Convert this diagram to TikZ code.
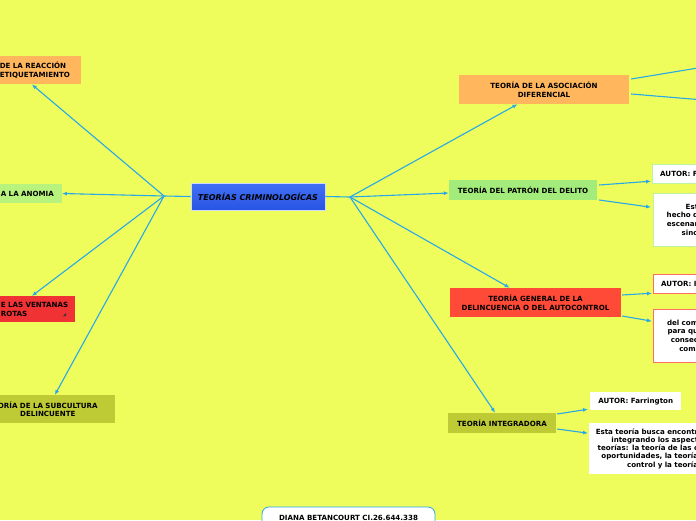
\documentclass[tikz,border=0pt]{standalone}
\usepackage{fontspec}
\setmainfont{DejaVu Sans}
\usetikzlibrary{arrows.meta, calc}

\definecolor{paper}{RGB}{238,253,91}
\definecolor{linkblue}{RGB}{40,168,232}
\definecolor{orangebox}{RGB}{255,182,92}
\definecolor{limebox}{RGB}{184,244,125}
\definecolor{redbox}{RGB}{240,50,52}
\definecolor{olivebox}{RGB}{190,203,52}
\definecolor{greenbox}{RGB}{163,235,122}
\definecolor{tomatobox}{RGB}{255,74,56}
\definecolor{bluetop}{RGB}{66,112,245}
\definecolor{bluebottom}{RGB}{40,84,228}
\definecolor{blueedge}{RGB}{205,220,248}

\begin{document}
\begin{tikzpicture}[
    x=1pt, y=-1pt,
    topic/.style={
        inner xsep=4pt,
        inner ysep=2pt,
        align=center,
        font=\fontsize{7.1}{8.8}\selectfont\bfseries,
    },
    note/.style={
        topic,
        fill=white,
        anchor=north west,
    },
    arrow/.style={
        -{Latex[length=5pt,width=4pt]},
        linkblue,
        line width=1.1pt,
    },
    link/.style={
        linkblue,
        line width=1.1pt,
    },
]

    \useasboundingbox (0,0) rectangle (696,520);
    \clip (0,0) rectangle (696,520);
    \fill[paper] (0,0) rectangle (696,520);

    \node[draw=blueedge, line width=1pt, top color=bluetop, bottom color=bluebottom,
        minimum width=134pt, minimum height=27pt,
        font=\fontsize{8}{10}\selectfont\bfseries\itshape] (crim) at (258,196.5) {TEORÍAS CRIMINOLOGÍCAS};
    \coordinate (hubL) at (164,196);
    \coordinate (hubR) at (350,197);

    % left side
    \node[topic, fill=orangebox, anchor=north east, minimum height=28pt, text width=77pt, align=left] (reac) at (81,56) {DE LA REACCIÓN\\ETIQUETAMIENTO};
    \node[topic, fill=limebox, anchor=east, minimum height=19pt, inner xsep=8pt, text width=60pt, align=right] (anom) at (62,193.5) {A LA ANOMIA};
    \node[topic, fill=redbox, anchor=north east, minimum height=26pt, text width=70pt, align=left] (vent) at (75,296) {E LAS VENTANAS\\ROTAS};
    \fill[black!80] (63,316) -- (66,316) -- (66,313) -- cycle;
    \node[topic, fill=olivebox, anchor=north east, minimum height=28pt, text width=126pt] (subc) at (115,395) {ORÍA DE LA SUBCULTURA\\DELINCUENTE};

    % right side
    \node[topic, fill=orangebox, minimum width=170pt, minimum height=29pt] (asoc) at (544,89.5) {TEORÍA DE LA ASOCIACIÓN\\DIFERENCIAL};
    \coordinate (asocX1) at (740,61);
    \coordinate (asocX2) at (740,103);

    \node[topic, fill=greenbox, minimum width=148pt, minimum height=20pt] (patr) at (523,190) {TEORÍA DEL PATRÓN DEL DELITO};
    \node[note, draw=greenbox!70, inner xsep=8pt, text width=60pt, align=left, minimum height=19pt] (patrA) at (652,164) {AUTOR: F};
    \node[note, draw=greenbox!70, text width=41pt, align=right, minimum height=53pt] (patrB) at (653,193) {Est\\hecho d\\escenar\\sino};

    \node[topic, fill=tomatobox, minimum width=171pt, minimum height=29pt] (gen) at (535.5,302.5) {TEORÍA GENERAL DE LA\\DELINCUENCIA O DEL AUTOCONTROL};
    \node[note, draw=tomatobox!80, inner xsep=8pt, text width=60pt, align=left, minimum height=19pt] (genA) at (653,274) {AUTOR: I};
    \node[note, draw=tomatobox!80, text width=41pt, align=right, minimum height=53pt] (genB) at (653,309) {del com\\para qu\\consec\\comi};

    \node[topic, fill=olivebox, minimum width=108pt, minimum height=20pt] (integ) at (502,423) {TEORÍA INTEGRADORA};
    \node[note, minimum width=91pt, minimum height=18pt] (integA) at (590,392) {AUTOR: Farrington};
    \node[note, text width=105pt, align=right, minimum height=51pt, font=\fontsize{7.1}{8.2}\selectfont\bfseries] (integB) at (589,423) {Esta teoría busca encontr\\integrando los aspect\\teorías: la teoría de las c\\oportunidades, la teoría\\control y la teoría};

    \node[topic, draw=linkblue, line width=0.8pt, fill=white, rounded corners=7pt, minimum width=173pt, minimum height=22pt] (auth) at (348.5,518) {DIANA BETANCOURT CI.26.644.338};

    % Draw arrows
    \draw[link] (crim.west) -- (hubL);
    \draw[link] (crim.east) -- (hubR);
    \draw[arrow] (hubL) -- ($(reac.south)+(-6.5,0)$);
    \draw[arrow] (hubL) -- (anom.east);
    \draw[arrow] (hubL) -- ($(vent.north)+(-4,0)$);
    \draw[arrow] (hubL) -- ($(subc.north)+(7,0)$);
    \draw[arrow] (hubR) -- (asoc);
    \draw[arrow] (hubR) -- (patr);
    \draw[arrow] (hubR) -- (gen);
    \draw[arrow] (hubR) -- (integ);
    \draw[arrow] ($(asoc.east)+(2,-10.5)$) -- (asocX1);
    \draw[arrow] ($(asoc.east)+(2,4.5)$) -- (asocX2);
    \draw[arrow] ($(patr.east)+(2,-5)$) -- ($(patrA.west)+(-1,7.5)$);
    \draw[arrow] ($(patr.east)+(2,10)$) -- ($(patrB.west)+(-2,-12.5)$);
    \draw[arrow] ($(gen.east)+(1,-7.5)$) -- ($(genA.west)+(-1,9.5)$);
    \draw[arrow] ($(gen.east)+(1,13.5)$) -- ($(genB.west)+(-1,-14.5)$);
    \draw[arrow] ($(integ.east)+(1,-9)$) -- ($(integA.west)+(-2,8)$);
    \draw[arrow] ($(integ.east)+(1,6)$) -- ($(integB.west)+(-1,-15.5)$);

\end{tikzpicture}
\end{document}
